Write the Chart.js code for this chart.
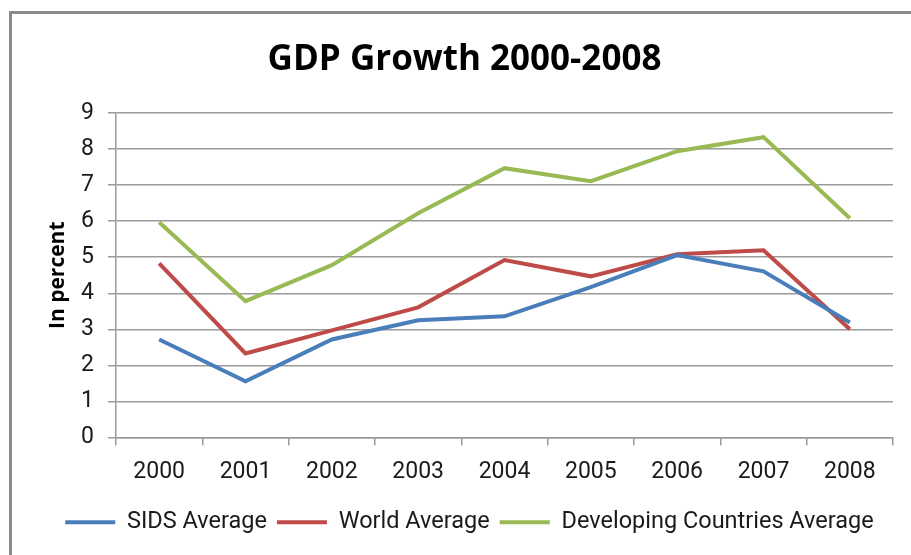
<!DOCTYPE html>
<html>
<head>
<meta charset="utf-8">
<title>GDP Growth 2000-2008</title>
<script src="https://cdn.jsdelivr.net/npm/chart.js@4.4.1/dist/chart.umd.min.js"></script>
<style>
  html, body { margin: 0; padding: 0; background: #fff; }
  #wrap { position: relative; width: 911px; height: 555px; overflow: hidden; }
  #frame {
    position: absolute; left: 9px; top: 11px; right: -10px; bottom: -10px;
    border-left: 3px solid #8a8a8a; border-top: 3px solid #8a8a8a;
    pointer-events: none;
  }
</style>
</head>
<body>
<div id="wrap">
  <canvas id="gdp"></canvas>
  <div id="frame"></div>
</div>
<script>
// data
const years = ["2000", "2001", "2002", "2003", "2004", "2005", "2006", "2007", "2008"];
const sidsAvg = [2.72, 1.56, 2.72, 3.25, 3.36, 4.17, 5.06, 4.61, 3.19];
const worldAvg = [4.83, 2.33, 2.97, 3.61, 4.92, 4.47, 5.08, 5.19, 3.0];
const devAvg = [5.97, 3.78, 4.78, 6.22, 7.47, 7.11, 7.94, 8.33, 6.08];

const gridGrey = "#9a9a9a";
const txt = "#1a1a1a";

function series(label, values, colour) {
    return {
        label: label,
        data: values,
        borderColor: colour,
        backgroundColor: colour,
        borderWidth: 4,
        tension: 0,
        pointRadius: 0,
        pointHoverRadius: 0,
        fill: false
    };
}

// nudge title and legend a bit to the right, so they sit over/under the plot
const centreOnPlot = {
    id: "centreOnPlot",
    afterLayout(chart) {
        chart.titleBlock.left += 13;
        chart.titleBlock.right += 13;
        chart.legend.left += 18;
        chart.legend.right += 18;
    }
};

let ctx = document.getElementById("gdp").getContext("2d");

let chart = new Chart(ctx, {
    type: "line",
    data: {
        labels: years,
        datasets: [
            series("SIDS Average", sidsAvg, "#4a7ebb"),
            series("World Average", worldAvg, "#be4b48"),
            series("Developing Countries Average", devAvg, "#98b954")
        ]
    },
    plugins: [centreOnPlot],
    options: {
        responsive: true,
        maintainAspectRatio: false,
        animation: false,
        layout: {
            padding: { left: 10, right: 18, top: 12, bottom: 11 }
        },
        scales: {
            x: {
                type: "category",
                offset: true,
                grid: {
                    offset: true,
                    drawOnChartArea: false,
                    tickLength: 8,
                    color: gridGrey,
                    lineWidth: 1.5
                },
                border: { color: gridGrey, width: 1.5 },
                ticks: {
                    color: txt,
                    padding: 13,
                    font: { family: "Roboto", size: 23 }
                },
                afterFit: (scale) => { scale.height = 63; }
            },
            y: {
                min: 0,
                max: 9,
                ticks: {
                    stepSize: 1,
                    color: txt,
                    padding: 14,
                    font: { family: "Roboto", size: 23 }
                },
                grid: {
                    color: gridGrey,
                    lineWidth: 1.5,
                    tickLength: 8
                },
                border: { color: gridGrey, width: 1.5 },
                title: {
                    display: true,
                    text: "In percent",
                    color: "#000",
                    padding: { top: 35, bottom: 0 },
                    font: { family: "Open Sans", size: 21, weight: "bold" }
                },
                afterFit: (scale) => { scale.width = 106; }
            }
        },
        plugins: {
            title: {
                display: true,
                text: "GDP Growth 2000-2008",
                color: "#000",
                padding: { top: 27, bottom: 32 },
                font: { family: "Open Sans", size: 35, weight: "bold" }
            },
            legend: {
                position: "bottom",
                labels: {
                    usePointStyle: true,
                    pointStyle: "line",
                    pointStyleWidth: 50,
                    boxHeight: 22,
                    padding: 10,
                    color: txt,
                    font: { family: "Roboto", size: 23.5 }
                }
            },
            tooltip: { enabled: false }
        }
    }
});
</script>
</body>
</html>
